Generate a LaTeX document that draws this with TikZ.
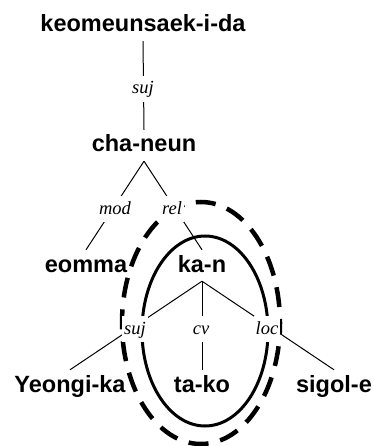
\documentclass[tikz,border=0pt]{standalone}
\usepackage{fontspec}
\setmainfont{Liberation Serif}
\newfontfamily\wordfont{Liberation Sans}
\begin{document}
\begin{tikzpicture}[x=1pt,y=-1pt,
  word/.style={font=\wordfont\bfseries\fontsize{23.5}{28}\selectfont, anchor=base,
    inner xsep=1pt, inner ysep=4pt, text height=18pt, text depth=5pt},
  lab/.style={font=\itshape\fontsize{18.5}{22}\selectfont, anchor=base, fill=white,
    inner xsep=2pt, inner ysep=0pt, text height=18pt, text depth=8pt},
  conn/.style={line width=1pt},
  solidring/.style={line width=3pt},
  dashring/.style={line width=4.5pt, dash pattern=on 20pt off 12pt, dash phase=16pt},
]
\useasboundingbox (0,0) rectangle (373,446);
% words
\node[word] (keo) at (143,32) {keomeunsaek-i-da};
\node[word] (cha) at (144,152) {cha-neun};
\node[word] (eomma) at (86,272) {eomma};
\node[word] (kan) at (202,272) {ka-n};
\node[word] (yeongi) at (70,392) {Yeongi-ka};
\node[word] (tako) at (202,392) {ta-ko};
\node[word] (sigol) at (334,392) {sigol-e};
% connectors
\draw[conn] (keo.south) -- (cha.north);
\draw[conn] (cha.south) -- (eomma.north);
\draw[conn] (cha.south) -- (kan.north);
\draw[conn] (kan.south) -- (yeongi.north);
\draw[conn] (kan.south) -- (tako.north);
\draw[conn] (kan.south) -- (sigol.north);
% rings
\draw[solidring] (205,331) ellipse [x radius=63pt, y radius=95pt];
\draw[dashring] (201,323) ellipse [x radius=79pt, y radius=121pt];
% labels
\node[lab] (suja) at (143,94) {suj};
\node[lab] (mod) at (115,214) {mod};
\node[lab] (rel) at (172,214) {rel};
\node[lab] (sujb) at (135,334) {suj};
\node[lab] (cv) at (201,334) {cv};
\node[lab] (loc) at (267,334) {loc};
\end{tikzpicture}
\end{document}
